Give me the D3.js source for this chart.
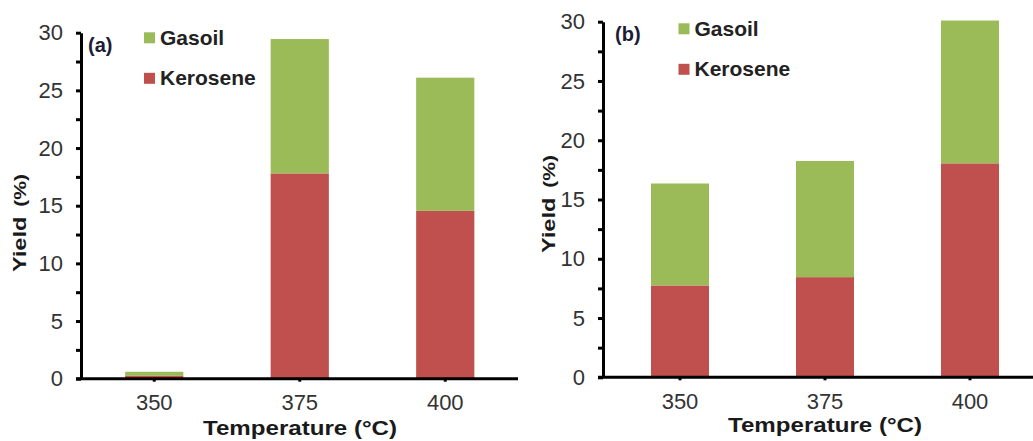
<!DOCTYPE html>
<html>
<head>
<meta charset="utf-8">
<script src="https://cdn.jsdelivr.net/npm/d3@7"></script>
<style>
  body { margin: 0; background: #fff; }
  svg { display: block; font-family: "Liberation Sans", Arial, sans-serif; }
</style>
</head>
<body>
<svg id="chart" width="1033" height="441"></svg>
<script>
// --- data ---
const temperatures = ["350", "375", "400"];
const keroseneA = [0.25, 17.8, 14.55];
const gasoilA = [0.35, 11.65, 11.55];
const keroseneB = [7.75, 8.45, 18.05];
const gasoilB = [8.6, 9.8, 12.05];
const yTicks = [0, 5, 10, 15, 20, 25, 30];
const yMinorTicks = [2.5, 7.5, 12.5, 17.5, 22.5, 27.5];
const seriesNames = ["Kerosene", "Gasoil"];
const legendOrder = ["Gasoil", "Kerosene"];
const colors = { Kerosene: "#C0504D", Gasoil: "#9BBB59" };

const svg = d3.select("#chart");
const axisW = 3;

// layout of each panel (pixels)
const panels = [
  { tag: "(a)", kerosene: keroseneA, gasoil: gasoilA,
    axisX: 81, top: 32.7, bottom: 378.7, bandStart: 81.5, bandEnd: 518, axisEnd: 518,
    legendX: 144, legendY: 32.3, tagX: 88, tagY: 52,
    titleX: 300, titleY: 435, yLabX: 26, yLabY: 223 },
  { tag: "(b)", kerosene: keroseneB, gasoil: gasoilB,
    axisX: 603, top: 21.7, bottom: 377.3, bandStart: 607.5, bandEnd: 1042.5, axisEnd: 1033,
    legendX: 678.5, legendY: 23.3, tagX: 615, tagY: 41,
    titleX: 825, titleY: 432, yLabX: 555, yLabY: 204 }
];

panels.forEach(p => drawPanel(p));

function drawPanel(p) {
  const g = svg.append("g");

  const x = d3.scaleBand()
    .domain(temperatures)
    .range([p.bandStart, p.bandEnd])
    .paddingInner(0.6)
    .paddingOuter(0.3);

  const y = d3.scaleLinear()
    .domain([0, 30])
    .range([p.bottom, p.top]);

  const rows = temperatures.map((t, i) => ({ t: t, Kerosene: p.kerosene[i], Gasoil: p.gasoil[i] }));
  const stacked = d3.stack().keys(seriesNames)(rows);

  // bars
  g.selectAll(".layer")
    .data(stacked)
    .enter().append("g")
    .attr("fill", d => colors[d.key])
    .selectAll("rect")
    .data(d => d)
    .enter().append("rect")
    .attr("x", d => x(d.data.t))
    .attr("width", x.bandwidth())
    .attr("y", d => y(d[1]))
    .attr("height", d => y(d[0]) - y(d[1]));

  // minor y ticks
  g.append("g")
    .attr("transform", `translate(${p.axisX},0)`)
    .call(d3.axisLeft(y).tickValues(yMinorTicks).tickSize(5).tickFormat(""))
    .call(a => a.select(".domain").remove())
    .selectAll("line").attr("stroke", "#000").attr("stroke-width", axisW);

  // y axis
  const yAxis = g.append("g")
    .attr("transform", `translate(${p.axisX},0)`)
    .call(d3.axisLeft(y).tickValues(yTicks).tickSize(5).tickSizeOuter(0).tickPadding(13));
  yAxis.select(".domain").attr("stroke", "#000").attr("stroke-width", axisW);
  yAxis.selectAll("line").attr("stroke", "#000").attr("stroke-width", axisW);
  yAxis.selectAll("text")
    .attr("fill", "#333")
    .style("font-size", "22px");

  // x axis
  const xAxis = g.append("g")
    .attr("transform", `translate(0,${p.bottom})`)
    .call(d3.axisBottom(x).tickSize(3).tickSizeOuter(0).tickPadding(13));
  xAxis.select(".domain").remove();
  xAxis.selectAll("line").attr("stroke", "#000").attr("stroke-width", axisW);
  xAxis.selectAll("text")
    .attr("fill", "#333")
    .style("font-size", "22px");
  g.append("line")
    .attr("x1", p.axisX - 5).attr("x2", p.axisEnd)
    .attr("y1", p.bottom).attr("y2", p.bottom)
    .attr("stroke", "#000").attr("stroke-width", axisW);

  // axis titles
  g.append("text")
    .attr("x", p.titleX).attr("y", p.titleY)
    .attr("text-anchor", "middle")
    .attr("textLength", 194).attr("lengthAdjust", "spacingAndGlyphs")
    .attr("font-weight", "bold").attr("font-size", 21).attr("fill", "#1a1a1a")
    .text("Temperature (°C)");

  const yLab = g.append("text")
    .attr("transform", `translate(${p.yLabX},${p.yLabY}) rotate(-90)`)
    .attr("text-anchor", "middle")
    .attr("textLength", 98).attr("lengthAdjust", "spacingAndGlyphs")
    .attr("font-weight", "bold").attr("font-size", 19).attr("fill", "#1a1a1a");
  yLab.append("tspan").text("Yield");
  yLab.append("tspan").attr("dx", 8).attr("font-size", 17).text("(%)");

  // panel tag
  g.append("text")
    .attr("x", p.tagX).attr("y", p.tagY)
    .attr("font-weight", "bold").attr("font-size", 20).attr("fill", "#1c1c36")
    .text(p.tag);

  // legend
  const leg = g.selectAll(".leg")
    .data(legendOrder)
    .enter().append("g")
    .attr("transform", (d, i) => `translate(${p.legendX},${p.legendY + i * 40.5})`);
  leg.append("rect")
    .attr("width", 11).attr("height", 11)
    .attr("fill", d => colors[d]);
  leg.append("text")
    .attr("x", 16).attr("y", 12.5)
    .attr("font-weight", "bold").attr("font-size", 21).attr("fill", "#222")
    .text(d => d);
}
</script>
</body>
</html>
